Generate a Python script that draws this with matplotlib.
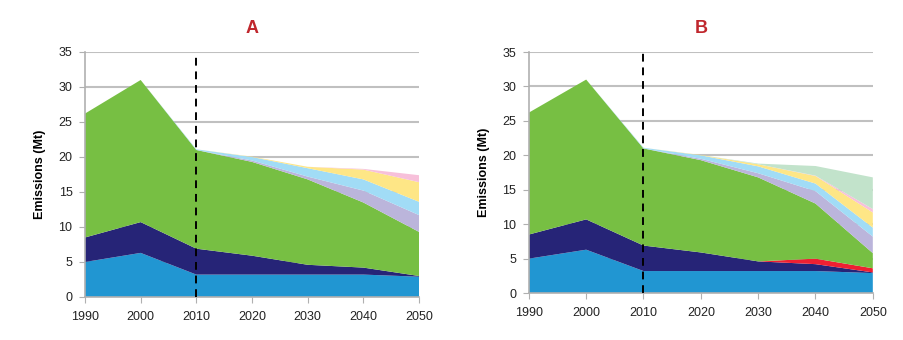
# Emission pathways, scenarios A and B (stacked areas by source)
import matplotlib.pyplot as plt

plt.rcParams['font.family'] = ['Liberation Sans', 'DejaVu Sans']

years = [1990, 2000, 2010, 2020, 2030, 2040, 2050]

# scenario A
a_blue = [5.0, 6.3, 3.2, 3.2, 3.2, 3.2, 2.9]
a_navy = [3.5, 4.4, 3.7, 2.7, 1.4, 1.0, 0.1]
a_green = [17.7, 20.3, 14.1, 13.4, 12.2, 9.3, 6.3]
a_lav = [0.0, 0.0, 0.0, 0.2, 0.4, 1.7, 2.4]
a_sky = [0.0, 0.0, 0.1, 0.5, 1.2, 1.6, 1.9]
a_yellow = [0.0, 0.0, 0.0, 0.05, 0.2, 1.4, 2.8]
a_pink = [0.0, 0.0, 0.0, 0.0, 0.0, 0.1, 1.0]

# scenario B
b_blue = [5.0, 6.3, 3.2, 3.2, 3.2, 3.2, 2.9]
b_navy = [3.5, 4.4, 3.7, 2.7, 1.4, 1.0, 0.1]
b_red = [0.0, 0.0, 0.0, 0.0, 0.0, 0.8, 0.6]
b_green = [17.7, 20.3, 14.1, 13.4, 12.2, 8.0, 2.2]
b_lav = [0.0, 0.0, 0.0, 0.2, 0.6, 1.8, 2.4]
b_sky = [0.0, 0.0, 0.1, 0.5, 1.0, 1.1, 1.3]
b_yellow = [0.0, 0.0, 0.0, 0.05, 0.3, 1.1, 2.2]
b_pink = [0.0, 0.0, 0.0, 0.0, 0.0, 0.05, 0.5]
b_mint = [0.0, 0.0, 0.0, 0.0, 0.1, 1.4, 4.6]

c_blue = '#2196d2'
c_navy = '#262477'
c_red = '#ee2032'
c_green = '#77bf43'
c_lav = '#bbb5db'
c_sky = '#a1dcf6'
c_yellow = '#fee686'
c_pink = '#f7c0da'
c_mint = '#c2e3cb'

fig = plt.figure(figsize=(9.04, 3.4), dpi=100)
axA = fig.add_axes([0.094, 0.1265, 0.3695, 0.7206])
axB = fig.add_axes([0.585, 0.138, 0.3805, 0.709])

axA.stackplot(years, a_blue, a_navy, a_green, a_lav, a_sky, a_yellow, a_pink,
              colors=[c_blue, c_navy, c_green, c_lav, c_sky, c_yellow, c_pink],
              lw=0, zorder=2)
axB.stackplot(years, b_blue, b_navy, b_red, b_green, b_lav, b_sky, b_yellow, b_pink, b_mint,
              colors=[c_blue, c_navy, c_red, c_green, c_lav, c_sky, c_yellow, c_pink, c_mint],
              lw=0, zorder=2)

for ax, title in [(axA, 'A'), (axB, 'B')]:
    ax.set_xlim(1990, 2050)
    ax.set_ylim(0, 35)
    ax.set_xticks(years)
    ax.set_yticks(range(0, 36, 5))
    ax.grid(axis='y', color='#c0c0c0', lw=1.5, zorder=0)
    ax.set_axisbelow(True)
    for s in ['top', 'right']:
        ax.spines[s].set_visible(False)
    for s in ['left', 'bottom']:
        ax.spines[s].set_color('#b0b0b0')
        ax.spines[s].set_linewidth(1.2)
        ax.spines[s].set_zorder(3)
    ax.tick_params(axis='x', length=4, pad=6, color='#b0b0b0', labelsize=9, labelcolor='#222222')
    ax.tick_params(axis='y', length=4, pad=5, color='#b0b0b0', labelsize=9, labelcolor='#222222')
    ax.axvline(2010, color='black', ls=(0, (4, 3)), lw=1.4, zorder=4, clip_on=False)
    ax.set_ylabel('Emissions (Mt)', fontsize=9, fontweight='bold', labelpad=9)
    ax.set_title(title, fontsize=13, fontweight='bold', color='#c0272d', pad=14)

fig.savefig('out.png', dpi=100)
